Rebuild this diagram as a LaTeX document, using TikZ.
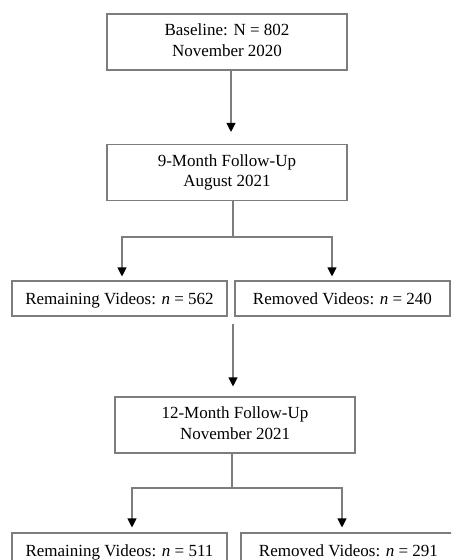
\documentclass[tikz,border=0pt]{standalone}
\usepackage{fontspec}
\setmainfont{Liberation Serif}
\usetikzlibrary{arrows.meta,calc}
\definecolor{linegray}{RGB}{125,125,125}
\begin{document}
\begin{tikzpicture}[x=1pt,y=-1pt,
  box/.style={draw=linegray, line width=1.1pt, align=center, inner sep=0pt, text=black, font=\fontsize{17}{20.5}\selectfont, execute at begin node={\rule{0pt}{16pt}}, execute at end node={\rule[-4pt]{0pt}{4pt}}},
  widebox/.style={box, minimum width=240pt, minimum height=56pt},
  narrowbox/.style={box, minimum width=215pt, minimum height=35pt},
  conn/.style={draw=linegray, line width=1.1pt},
  arr/.style={conn, -{Triangle[width=9pt,length=9pt,black]}}]
\clip (0,0) rectangle (451,560);
\fill[white] (0,0) rectangle (451,560);
\node[widebox] (b1) at (227,42) {Baseline: N = 802\\November 2020};
\node[widebox] (b2) at (227,172.5) {9-Month Follow-Up\\August 2021};
\node[narrowbox] (r1) at (119.5,298.5) {Remaining Videos: \textit{n} = 562};
\node[narrowbox] (d1) at (342.5,298.5) {Removed Videos: \textit{n} = 240};
\node[widebox] (b3) at (235,425) {12-Month Follow-Up\\November 2021};
\node[narrowbox] (r2) at (119.5,550.5) {Remaining Videos: \textit{n} = 511};
\node[narrowbox] (d2) at (348.5,550.5) {Removed Videos: \textit{n} = 291};
% baseline -> 9 month
\draw[arr, shorten >=12pt] ($(b1.south)+(4,0)$) -- ($(b2.north)+(4,0)$);
% 9 month split
\coordinate (j1) at (233,237);
\draw[conn] ($(b2.south)+(6,0)$) -- (j1);
\draw[arr, shorten >=4pt] (j1) -| ($(r1.north)+(2.5,0)$);
\draw[arr, shorten >=4pt] (j1) -| ($(d1.north)+(-10.5,0)$);
% remaining -> 12 month
\coordinate (m1) at (233,324);
\draw[arr, shorten >=10pt] (m1) -- ($(b3.north)+(-2,0)$);
% 12 month split
\coordinate (j2) at (232,488);
\draw[conn] ($(b3.south)+(-3,0)$) -- (j2);
\draw[arr, shorten >=5pt] (j2) -| ($(r2.north)+(12.5,0)$);
\draw[arr, shorten >=5pt] (j2) -| ($(d2.north)+(-6.5,0)$);
\end{tikzpicture}
\end{document}
